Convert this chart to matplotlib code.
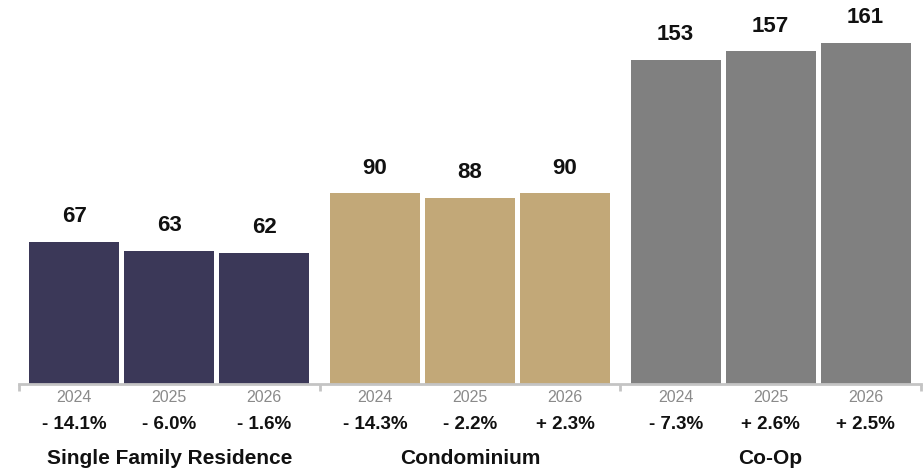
import numpy as np
import matplotlib
matplotlib.use("Agg")
import matplotlib.pyplot as plt

plt.rcParams['font.family'] = ['Liberation Sans', 'DejaVu Sans']

# data
groups = ["Single Family Residence", "Condominium", "Co-Op"]
years = ["2024", "2025", "2026"]
values = [[67, 63, 62], [90, 88, 90], [153, 157, 161]]
changes = [["- 14.1%", "- 6.0%", "- 1.6%"],
           ["- 14.3%", "- 2.2%", "+ 2.3%"],
           ["- 7.3%", "+ 2.6%", "+ 2.5%"]]
colors = ["#3b3858", "#c2a878", "#808080"]

fig = plt.figure(figsize=(9.24, 4.72), dpi=100)
ax = fig.add_axes([19 / 924, 88 / 472, 902 / 924, 384 / 472])

step = 0.316
width = 0.30
for g, name in enumerate(groups):
    for j, v in enumerate(values[g]):
        x = g + 0.5 + (j - 1) * step
        ax.bar(x, v, width=width, color=colors[g])
        ax.text(x, v + 7, str(v), ha='center', va='bottom',
                fontsize=16, fontweight='bold', color='#111111')
        ax.text(x, -6.5, years[j], ha='center', va='center',
                fontsize=11.5, color='#8a8a8a')
        ax.text(x, -19, changes[g][j], ha='center', va='center',
                fontsize=13.5, fontweight='bold', color='#111111')
    ax.text(g + 0.5, -35, name, ha='center', va='center',
            fontsize=15, fontweight='bold', color='#111111')

ax.set_xlim(0, 3)
ax.set_ylim(0, 181.3)
for s in ['top', 'right', 'left']:
    ax.spines[s].set_visible(False)
ax.spines['bottom'].set_color('#c4c4c4')
ax.spines['bottom'].set_linewidth(2)
ax.set_yticks([])
ax.set_xticks([0, 1, 2, 3])
ax.set_xticklabels([])
ax.tick_params(axis='x', length=5, width=2, color='#c4c4c4')

fig.savefig("out.png", dpi=100)
